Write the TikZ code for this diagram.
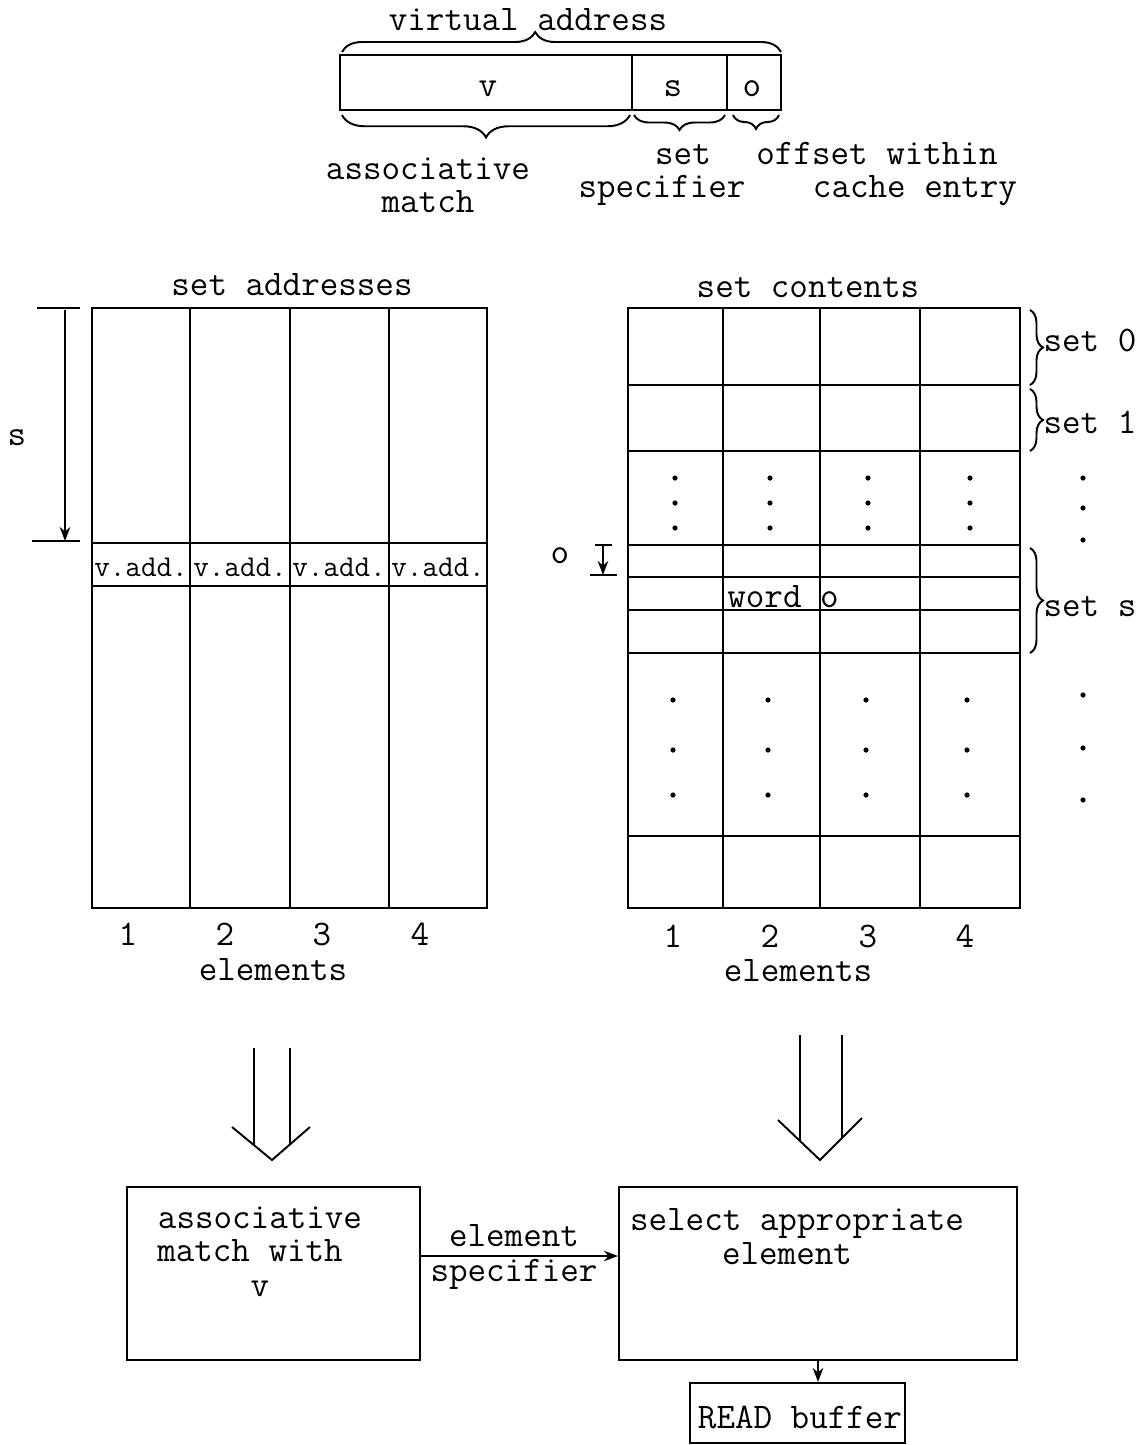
\documentclass[tikz,border=0pt]{standalone}
\usepackage{fontspec}
\usetikzlibrary{decorations.pathreplacing,arrows.meta}
\begin{document}
\begin{tikzpicture}[x=0.02cm,y=-0.02cm,line width=1.1pt,
  lbl/.style={font=\ttfamily\fontsize{20.5}{23}\selectfont,inner sep=0pt,text height=0.55em,text depth=0.1em,yshift=-0.14cm},
  sml/.style={font=\ttfamily\fontsize{17.2}{19}\selectfont,inner sep=0pt,text height=0.55em,text depth=0.1em,yshift=-0.12cm},
  brc/.style={decorate,decoration={brace,amplitude=#1}},
  brc/.default=0.3cm,
  boxn/.style={draw,line width=1.2pt,inner sep=0pt},
  arr/.style={-{Stealth[length=8pt,width=6pt]}}]
\useasboundingbox (0,0) rectangle (1146,1445);

% ---------- virtual address ----------
\draw (340,55) rectangle (781,110);
\draw (632,55) -- (632,110);
\draw (727,55) -- (727,110);
\node[lbl] (lv) at (488,86) {v};
\node[lbl] (ls) at (673,86) {s};
\node[lbl] (lo) at (752,86) {o};
\draw[brc=0.4cm,decoration={aspect=0.44}] (342,52) -- (781,52);
\node[lbl] (va) at (528,20) {virtual address};
\draw[brc=0.45cm,decoration={mirror}] (342,115) -- (630,115);
\draw[brc=0.3cm,decoration={mirror}] (634,115) -- (725,115);
\draw[brc=0.28cm,decoration={mirror}] (733,115) -- (779,115);
\node[lbl] (am1) at (428,169) {associative};
\node[lbl] (am2) at (428,202) {match};
\node[lbl] (ss1) at (683,154) {set};
\node[lbl] (ss2) at (662,187) {specifier};
\node[lbl] (of1) at (877,154) {offset within};
\node[lbl] (of2) at (915,187) {cache entry};

% ---------- set addresses ----------
\node[lbl] (sa) at (292,285) {set addresses};
\draw (92,308) rectangle (487,908);
\foreach \x in {190,290,389} \draw (\x,308) -- (\x,908);
\draw (92,543) -- (487,543);
\draw (92,586) -- (487,586);
\foreach \x/\n in {141/a,240/b,339/c,438/d}
  \node[sml] (vadd\n) at (\x,567) {v.add.};
\draw (37,308) -- (80,308);
\draw (32,541) -- (80,541);
\draw[arr] (65,310) -- (65,541);
\node[lbl] (sl) at (17,435) {s};
\foreach \x/\t/\n in {128/1/a,225/2/b,322/3/c,420/4/d}
  \node[lbl] (ln\n) at (\x,935) {\t};
\node[lbl] (el1) at (273,970) {elements};

% ---------- set contents ----------
\node[lbl] (sc) at (808,287) {set contents};
\draw (628,308) rectangle (1020,908);
\foreach \x in {723,820,920} \draw (\x,308) -- (\x,908);
\foreach \y in {385,451,545,577,610,653,836} \draw (628,\y) -- (1020,\y);
\node[lbl] (wo) at (783,597) {word o};
\foreach \x in {675,770,868,970} {
  \foreach \y in {478,503,528} \fill (\x,\y) circle (2.6);
}
\foreach \y in {478,508,540} \fill (1083,\y) circle (2.6);
\foreach \x in {673,768,866,967} {
  \foreach \y in {700,750,795} \fill (\x,\y) circle (2.6);
}
\foreach \y in {695,748,800} \fill (1083,\y) circle (2.6);
% offset marker
\draw (595,545) -- (612,545);
\draw (590,575) -- (617,575);
\draw[arr] (603,545) -- (603,575);
\node[lbl] (ol) at (560,553) {o};
% set braces
\draw[brc=0.26cm] (1030,310) -- (1030,385);
\draw[brc=0.26cm] (1030,389) -- (1030,451);
\draw[brc=0.26cm] (1030,548) -- (1030,653);
\node[lbl] (s0) at (1090,341) {set 0};
\node[lbl] (s1) at (1090,423) {set 1};
\node[lbl] (sS) at (1090,606) {set s};
\foreach \x/\t/\n in {673/1/a,770/2/b,868/3/c,965/4/d}
  \node[lbl] (rn\n) at (\x,937) {\t};
\node[lbl] (el2) at (798,971) {elements};

% ---------- double arrows ----------
\draw (254,1048) -- (254,1145);
\draw (290,1048) -- (290,1144);
\draw (232,1127) -- (272,1160) -- (310,1127);
\draw (800,1035) -- (800,1141);
\draw (842,1035) -- (842,1138);
\draw (778,1120) -- (820,1160) -- (862,1118);

% ---------- boxes ----------
\node[boxn,minimum width=5.86cm,minimum height=3.46cm] (amb) at (273.5,1273.5) {};
\node[boxn,minimum width=7.96cm,minimum height=3.46cm] (sel) at (818,1273.5) {};
\node[boxn,minimum width=4.3cm,minimum height=1.2cm] (rb) at (797.5,1413) {};
\node[lbl] (t1) at (260,1218) {associative};
\node[lbl] (t2) at (250,1251) {match with};
\node[lbl] (t3) at (260,1286) {v};
\node[lbl] (t4) at (797,1220) {select appropriate};
\node[lbl] (t5) at (787,1254) {element};
\node[lbl] (t6) at (800,1418) {READ buffer};
\coordinate (ay) at (0,1256);
\draw[arr] (amb.east |- ay) -- (sel.west |- ay);
\node[lbl] (es1) at (514,1236) {element};
\node[lbl] (es2) at (514,1271) {specifier};
\draw[arr] (sel.south) -- (sel.south |- rb.north);
\end{tikzpicture}
\end{document}
